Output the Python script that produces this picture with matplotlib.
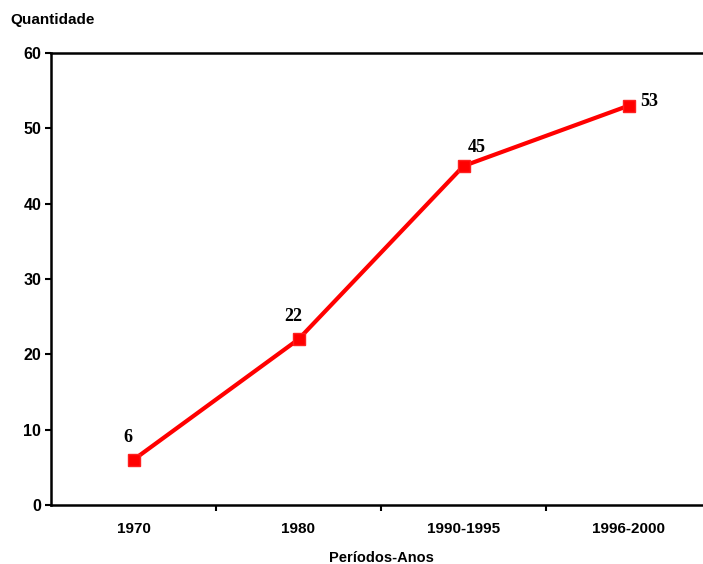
import matplotlib
matplotlib.use("Agg")
import matplotlib.pyplot as plt
from matplotlib.ticker import FixedLocator

# ── Data ────────────────────────────────────────────────────────────────────
periods = ["1970", "1980", "1990-1995", "1996-2000"]
quantities = [6, 22, 45, 53]
# label offsets in points (dx, dy) relative to each marker
label_offsets = [(-4.3, 16), (-3.6, 16.5), (9.4, 13), (15, 3)]

plt.rcParams["font.family"] = ["Liberation Sans", "DejaVu Sans"]

fig = plt.figure(figsize=(7.03, 5.64), dpi=100)
ax = fig.add_axes([51 / 703, 59 / 564, 660 / 703, 452 / 564])

x = range(len(periods))
ax.plot(x, quantities, color="#ff0000", linewidth=3, marker="s",
        markersize=9, markerfacecolor="#ff0000", markeredgecolor="#ff2020",
        clip_on=False, zorder=3)

for xi, q, (dx, dy) in zip(x, quantities, label_offsets):
    ax.annotate(str(q), (xi, q), xytext=(dx, dy), textcoords="offset points",
                ha="center", va="center", fontsize=13, fontweight="bold",
                family="Liberation Serif", color="black")

ax.set_xlim(-0.5, len(periods) - 0.5)
ax.set_ylim(0, 60)
ax.set_yticks(range(0, 61, 10))
ax.set_xticks(list(x))
ax.set_xticklabels(periods)
ax.xaxis.set_minor_locator(FixedLocator([0.5, 1.5, 2.5]))
ax.tick_params(axis="x", which="major", length=0, pad=12, labelsize=11)
ax.tick_params(axis="x", which="minor", length=4, width=1.5)
ax.tick_params(axis="y", length=4, width=1.5, pad=3, labelsize=11.5)
for lbl in ax.get_xticklabels() + ax.get_yticklabels():
    lbl.set_fontweight("bold")

for spine in ax.spines.values():
    spine.set_linewidth(1.8)

ax.set_xlabel("Períodos-Anos", fontsize=10.5, fontweight="bold", labelpad=11)
fig.text(10 / 703, 1 - 20 / 564, "Quantidade", fontsize=11,
         fontweight="bold", ha="left", va="center")

fig.savefig("out.png", dpi=100, facecolor="white")
